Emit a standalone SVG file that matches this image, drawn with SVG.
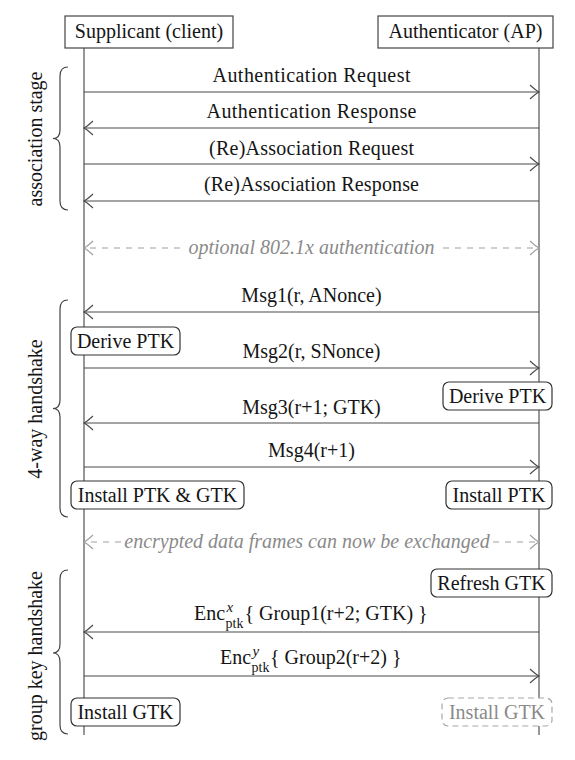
<svg xmlns="http://www.w3.org/2000/svg" width="575" height="760" viewBox="0 0 575 760">
<style>
text{font-family:'Liberation Serif','Times New Roman',serif;font-size:20px;fill:#151515}
.c{text-anchor:middle}
.g{fill:#8a8a8a;font-style:italic}
.hdr{fill:#fff;stroke:#444;stroke-width:1.2}
.life{stroke:#757575;stroke-width:1.5;fill:none}
.msg{stroke:#4a4a4a;stroke-width:1.2;fill:none;marker-end:url(#ah)}
.dash{stroke:#a0a0a0;stroke-width:1.2;fill:none;stroke-dasharray:6 6;marker-end:url(#ahg)}
.box{fill:#fff;stroke:#333;stroke-width:1.2}
.dbox{fill:#fff;stroke:#a8a8a8;stroke-width:1.2;stroke-dasharray:6 4}
.brace{stroke:#444;stroke-width:1.2;fill:none}
.sub{font-size:14px}
.sup{font-size:15px;font-style:italic}
</style>
<defs>
<marker id="ah" viewBox="-11 -9 13 18" refX="0" refY="0" markerWidth="13" markerHeight="18" markerUnits="userSpaceOnUse" orient="auto">
<path d="M-9,-7 Q-3,-1.5 0,0 Q-3,1.5 -9,7" fill="none" stroke="#4a4a4a" stroke-width="1.2"/>
</marker>
<marker id="ahg" viewBox="-11 -9 13 18" refX="0" refY="0" markerWidth="13" markerHeight="18" markerUnits="userSpaceOnUse" orient="auto">
<path d="M-9,-7 Q-3,-1.5 0,0 Q-3,1.5 -9,7" fill="none" stroke="#a0a0a0" stroke-width="1.2"/>
</marker>
</defs>
<rect width="575" height="760" fill="#fff"/>

<g id="supplicant">
<line class="life" x1="84" y1="48" x2="84" y2="735"/>
<rect class="hdr" x="65" y="16" width="168" height="32"/>
<text class="c" x="149" y="38">Supplicant (client)</text>
</g>
<g id="authenticator">
<line class="life" x1="539" y1="48" x2="539" y2="735"/>
<rect class="hdr" x="378" y="16" width="175" height="32"/>
<text class="c" x="465.5" y="38">Authenticator (AP)</text>
</g>

<g id="connectors">
<line class="msg" x1="84" y1="92" x2="539" y2="92"/>
<text class="c" x="311.5" y="82" textLength="198" lengthAdjust="spacing">Authentication Request</text>
<line class="msg" x1="539" y1="128" x2="84" y2="128"/>
<text class="c" x="311.5" y="118" textLength="210" lengthAdjust="spacing">Authentication Response</text>
<line class="msg" x1="84" y1="164" x2="539" y2="164"/>
<text class="c" x="311.5" y="155" textLength="205" lengthAdjust="spacing">(Re)Association Request</text>
<line class="msg" x1="539" y1="201" x2="84" y2="201"/>
<text class="c" x="311.5" y="191" textLength="215" lengthAdjust="spacing">(Re)Association Response</text>

<line class="dash" x1="180" y1="248" x2="84" y2="248"/>
<line class="dash" x1="443" y1="248" x2="539" y2="248"/>
<text class="c g" x="311.5" y="254">optional 802.1x authentication</text>

<line class="msg" x1="539" y1="312" x2="84" y2="312"/>
<text class="c" x="311.5" y="302">Msg1(r, ANonce)</text>
<line class="msg" x1="84" y1="368" x2="539" y2="368"/>
<text class="c" x="311.5" y="358">Msg2(r, SNonce)</text>
<line class="msg" x1="539" y1="423" x2="84" y2="423"/>
<text class="c" x="311.5" y="414">Msg3(r+1; GTK)</text>
<line class="msg" x1="84" y1="467" x2="539" y2="467"/>
<text class="c" x="311.5" y="457">Msg4(r+1)</text>

<line class="dash" x1="121" y1="542" x2="84" y2="542"/>
<line class="dash" x1="493" y1="542" x2="539" y2="542"/>
<text class="c g" x="307" y="548">encrypted data frames can now be exchanged</text>

<line class="msg" x1="539" y1="632" x2="84" y2="632"/>
<text x="194" y="620">Enc</text>
<text class="sub" x="225.5" y="628">ptk</text>
<text class="sup" x="226.5" y="612">x</text>
<text x="244.5" y="620">{ Group1(r+2; GTK) }</text>

<line class="msg" x1="84" y1="676" x2="539" y2="676"/>
<text x="220" y="664">Enc</text>
<text class="sub" x="251.5" y="672">ptk</text>
<text class="sup" x="252.5" y="656">y</text>
<text x="270" y="664">{ Group2(r+2) }</text>
</g>

<g id="derive-ptk-s">
<rect class="box" x="71" y="327" width="109" height="28" rx="6"/>
<text class="c" x="125.5" y="347.5">Derive PTK</text>
</g>
<g id="derive-ptk-a">
<rect class="box" x="443" y="382" width="109" height="28" rx="6"/>
<text class="c" x="497.5" y="402.5">Derive PTK</text>
</g>
<g id="install-ptk-gtk-s">
<rect class="box" x="71" y="481" width="173" height="28" rx="6"/>
<text class="c" x="157.5" y="501.5">Install PTK &amp; GTK</text>
</g>
<g id="install-ptk-a">
<rect class="box" x="446" y="481" width="106" height="28" rx="6"/>
<text class="c" x="499" y="501.5">Install PTK</text>
</g>
<g id="refresh-gtk-a">
<rect class="box" x="431" y="569" width="121" height="28" rx="6"/>
<text class="c" x="491.5" y="589.5">Refresh GTK</text>
</g>
<g id="install-gtk-s">
<rect class="box" x="71" y="698" width="109" height="28" rx="6"/>
<text class="c" x="125.5" y="718.5">Install GTK</text>
</g>
<g id="install-gtk-a">
<rect class="dbox" x="442" y="698" width="110" height="28" rx="6"/>
<text class="c" x="497" y="718.5" style="fill:#8a8a8a">Install GTK</text>
</g>

<g id="stage-association">
<path class="brace" d="M68,67 Q60,67 60,76 L60,130 Q60,138.5 53,138.5 Q60,138.5 60,147 L60,201 Q60,210 68,210"/>
<text class="c" transform="translate(42,139) rotate(-90)">association stage</text>
</g>
<g id="stage-4way">
<path class="brace" d="M68,300 Q60,300 60,309 L60,400 Q60,408.5 53,408.5 Q60,408.5 60,417 L60,508 Q60,517 68,517"/>
<text class="c" transform="translate(42,409) rotate(-90)">4-way handshake</text>
</g>
<g id="stage-groupkey">
<path class="brace" d="M68,570 Q60,570 60,579 L60,644 Q60,653 53,653 Q60,653 60,662 L60,725 Q60,734 68,734"/>
<text class="c" transform="translate(42,656) rotate(-90)">group key handshake</text>
</g>
</svg>
